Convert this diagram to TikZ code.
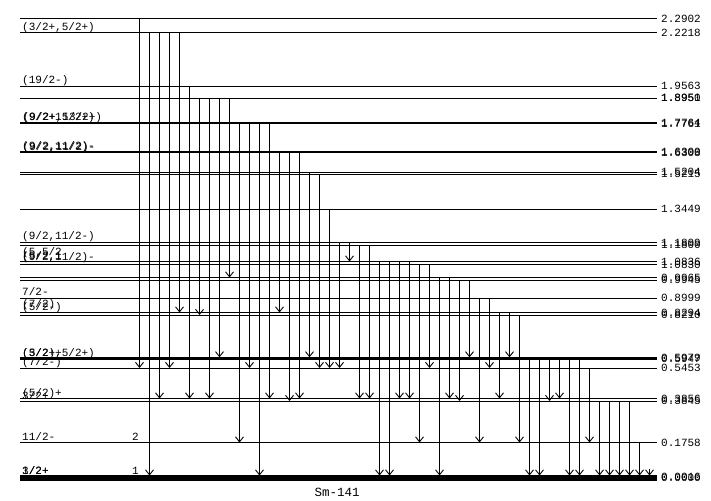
\documentclass[tikz,border=0pt]{standalone}
\usepackage{fontspec}
\setmonofont{Liberation Mono}
\usetikzlibrary{arrows.meta}
\begin{document}
\begin{tikzpicture}[x=1pt,y=-1pt,
  lvl/.style={line width=1pt},
  tr/.style={line width=1pt,-{Straight Barb[length=5pt,width=8pt,line width=0.9pt]}},
  lab/.style={anchor=base west,inner sep=0pt,font=\ttfamily\fontsize{11}{13}\selectfont},
  elab/.style={anchor=base west,inner sep=0pt,font=\ttfamily\fontsize{11}{13}\selectfont}]
\useasboundingbox (0,0) rectangle (711,500);
% levels
\foreach \y in {19,33,86.5,98.3,172,174,209,242.5,245,261.5,264.5,277.5,280,298,312.5,315,368,398.5,401,442.5}
  \draw[lvl] (20,\y) -- (657,\y);
\draw[line width=2pt] (20,123) -- (657,123);
\draw[line width=2pt] (20,152) -- (657,152);
\draw[line width=2.5pt] (20,358.5) -- (657,358.5);
\draw[line width=5.5pt] (20,478) -- (657,478);
% transitions
\begin{scope}[xshift=-0.5pt]
\foreach \x/\a/\b in {140/19/368,150/33/475.5,160/33/398.5,170/33/368,180/33/312.5,
  190/86.5/398.5,200/98.3/315,210/98.3/398.5,220/98.3/357.3,230/98.3/277.5,
  240/122/442.5,250/122/368,260/122/475.5,270/122/398.5,
  280/151/312.5,290/151/401,300/151/398.5,310/172/357.3,320/174/368,330/209/368,
  340/242.5/368,350/242.5/261.5,360/245/398.5,370/245/398.5,
  380/261.5/475.5,390/261.5/475.5,400/261.5/398.5,410/261.5/398.5,420/264.5/442.5,430/264.5/368,
  440/277.5/475.5,450/277.5/398.5,460/280/401,470/280/357.3,480/298/442.5,490/298/368,
  500/312.5/398.5,510/312.5/357.3,520/315/442.5,
  530/359/475.5,540/359/475.5,550/359/401,560/359/398.5,570/359/475.5,580/359/475.5,
  590/368/442.5,600/401/475.5,610/401/475.5,620/401/475.5,630/401/475.5,640/442.5/475.5,650/469/475.5}
  \draw[tr] (\x,\a) -- (\x,\b);
\end{scope}
% spin labels
\node[lab] (s1) at (22,30.5) {(3/2+,5/2+)};
\node[lab] (s2) at (22,84) {(19/2-)};
\node[lab] (s3) at (22,120.5) {(9/2+15/2+)};
\node[lab] (s3b) at (22.6,121) {(9/2+,13/2+)};
\node[lab] (s4) at (22,149.5) {(9/2,11/2)-};
\node[lab] (s4b) at (22.5,150) {(9/2,11/2)-};
\node[lab] (s5) at (22,239.5) {(9/2,11/2-)};
\node[lab] (s6) at (22,255) {(5,5/2};
\node[lab] (s7) at (22,260.5) {(9/2,11/2)-};
\node[lab] (s7b) at (22,259.5) {(5/2,1};
\node[lab] (s8) at (22,295) {7/2-};
\node[lab] (s9) at (22,307.5) {(7/2)};
\node[lab] (s9b) at (22,310.5) {(5/2-)};
\node[lab] (s10) at (22,356) {(3/2+,5/2+)};
\node[lab] (s10b) at (22,356) {(5/2)+};
\node[lab] (s11) at (22,365.5) {(7/2-)};
\node[lab] (s12) at (22,396) {(5/2)+};
\node[lab] (s12b) at (22,399.5) {3/2+};
\node[lab] (s13) at (22,440) {11/2-};
\node[lab] (n2) at (132,440) {2};
\node[lab] (s14) at (22,474.5) {1/2+};
\node[lab] (s14b) at (22,474.5) {3/2+};
\node[lab] (n1) at (132,474.5) {1};
% energy labels
\foreach \y/\t in {19/2.2902,33/2.2218,86.5/1.9563,98.3/1.8950,98.3/1.8951,122.5/1.7764,123.5/1.7761,
  151.5/1.6300,152.5/1.6308,172/1.5204,174/1.5215,209/1.3449,242.5/1.1809,245/1.1800,
  261.5/1.0836,264.5/1.0830,277.5/0.9965,280/0.9945,298/0.8999,312.5/0.8294,315/0.8210,
  358/0.5979,358.5/0.5947,368/0.5453,398.5/0.3856,401/0.3845,442.5/0.1758,477/0.0016,478/0.0000}
  \node[elab] at (661,\y+3.5) {\t};
\node[anchor=base,inner sep=0pt,font=\ttfamily\fontsize{12.5}{14}\selectfont] (title) at (337,496) {Sm-141};
\end{tikzpicture}
\end{document}
